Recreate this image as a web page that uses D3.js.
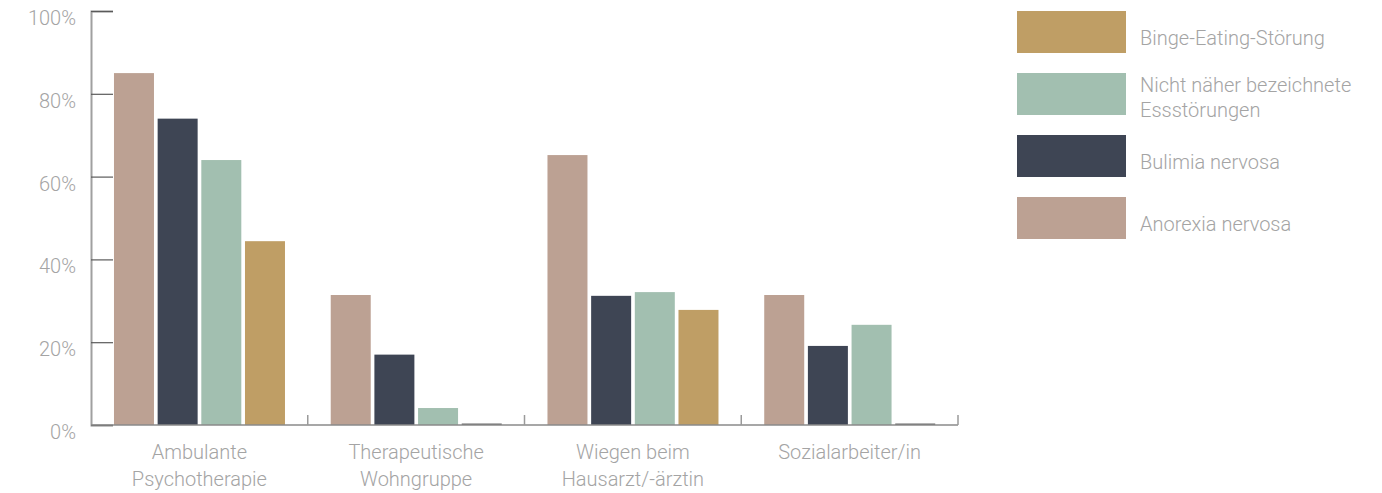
<!DOCTYPE html>
<html>
<head>
<meta charset="utf-8">
<script src="https://cdn.jsdelivr.net/npm/d3@7"></script>
<style>
  body { margin: 0; background: #fff; }
  text { font-family: Roboto, "Open Sans", sans-serif; font-weight: 300; fill: #a4a4a4; }
</style>
</head>
<body>
<svg id="chart" width="1382" height="493"></svg>
<script>
// Categories (two-line labels) and series
const categories = ["Ambulante Psychotherapie", "Therapeutische Wohngruppe", "Wiegen beim Hausarzt/-ärztin", "Sozialarbeiter/in"];
const categoryLines = [["Ambulante", "Psychotherapie"], ["Therapeutische", "Wohngruppe"], ["Wiegen beim", "Hausarzt/-ärztin"], ["Sozialarbeiter/in"]];
const seriesNames = ["Anorexia nervosa", "Bulimia nervosa", "Nicht näher bezeichnete Essstörungen", "Binge-Eating-Störung"];
const anorexia = [85, 31.4, 65.2, 31.4];
const bulimia = [74, 17, 31.2, 19.1];
const nnb = [64, 4.1, 32.1, 24.2];
const binge = [44.4, 0, 27.8, 0];
const yTicks = [0, 20, 40, 60, 80, 100];
// Legend order (top to bottom)
const legendOrder = ["Binge-Eating-Störung", "Nicht näher bezeichnete Essstörungen", "Bulimia nervosa", "Anorexia nervosa"];
const legendLines = {
  "Binge-Eating-Störung": ["Binge-Eating-Störung"],
  "Nicht näher bezeichnete Essstörungen": ["Nicht näher bezeichnete", "Essstörungen"],
  "Bulimia nervosa": ["Bulimia nervosa"],
  "Anorexia nervosa": ["Anorexia nervosa"]
};

const seriesValues = [anorexia, bulimia, nnb, binge];
const data = categories.map((c, i) => ({
  category: c,
  values: seriesNames.map((s, j) => ({ series: s, value: seriesValues[j][i] }))
}));

const color = d3.scaleOrdinal()
  .domain(seriesNames)
  .range(["#bca193", "#3e4554", "#a2bfb0", "#bf9e65"]);

const svg = d3.select("#chart");
const plotLeft = 91, plotRight = 958, plotTop = 11, plotBottom = 425;

const x0 = d3.scaleBand().domain(categories).range([plotLeft, plotRight])
  .paddingInner(0.2).paddingOuter(0.1);
const x1 = d3.scaleBand().domain(seriesNames).range([1.3, x0.bandwidth() - 1.1])
  .paddingInner(0.084).paddingOuter(0);
const y = d3.scaleLinear().domain([0, 100]).range([plotBottom, plotTop]);

// Bars
const groups = svg.append("g").selectAll("g")
  .data(data).join("g")
  .attr("transform", d => `translate(${x0(d.category)},0)`);

groups.selectAll("rect")
  .data(d => d.values).join("rect")
  .attr("x", d => x1(d.series))
  .attr("width", x1.bandwidth())
  .attr("y", d => d.value > 0 ? y(d.value) : y(0) - 1.5)
  .attr("height", d => d.value > 0 ? y(0) - y(d.value) : 1.5)
  .attr("fill", d => d.value > 0 ? color(d.series) : "#6a6a6a");

// Y axis (ticks point into the plot)
const yAxis = svg.append("g")
  .attr("transform", `translate(${plotLeft},0)`)
  .call(d3.axisLeft(y).tickValues(yTicks).tickFormat(d => d + "%")
    .tickSize(-22).tickPadding(15));
yAxis.select(".domain").attr("stroke", "#a0a0a0").attr("stroke-width", 2);
yAxis.selectAll(".tick line").attr("stroke", "#5a5a5a").attr("stroke-width", 1.2);
yAxis.selectAll(".tick text")
  .attr("dy", "0.32em").attr("y", 7)
  .style("font-size", "20px").style("font-family", "Roboto, sans-serif")
  .attr("fill", "#a4a4a4");

// X axis baseline and separators
svg.append("line")
  .attr("x1", plotLeft).attr("x2", plotRight)
  .attr("y1", y(0)).attr("y2", y(0))
  .attr("stroke", "#8a8a8a").attr("stroke-width", 1.5);

svg.append("g").selectAll("line")
  .data(categories).join("line")
  .attr("x1", d => x0(d) + x0.bandwidth() + x0.step() * 0.1)
  .attr("x2", d => x0(d) + x0.bandwidth() + x0.step() * 0.1)
  .attr("y1", y(0)).attr("y2", y(0) - 10)
  .attr("stroke", "#9a9a9a").attr("stroke-width", 1.5);

// Category labels
svg.append("g").selectAll("text")
  .data(categories).join("text")
  .attr("text-anchor", "middle")
  .style("font-size", "20px")
  .each(function (d, i) {
    d3.select(this).selectAll("tspan")
      .data(categoryLines[i]).join("tspan")
      .attr("x", x0(d) + x0.bandwidth() / 2)
      .attr("y", (l, k) => 459 + k * 27)
      .text(l => l);
  });

// Legend
const legend = svg.append("g").attr("transform", "translate(1017,11)");
legendOrder.forEach((s, i) => {
  const item = legend.append("g").attr("transform", `translate(0,${i * 62})`);
  item.append("rect")
    .attr("width", 109).attr("height", 42)
    .attr("fill", color(s));
  const lines = legendLines[s];
  item.append("text")
    .style("font-size", "20px")
    .selectAll("tspan")
    .data(lines).join("tspan")
    .attr("x", 123)
    .attr("y", (l, k) => (lines.length === 1 ? 34 : 19 + k * 25))
    .text(l => l);
});
</script>
</body>
</html>
